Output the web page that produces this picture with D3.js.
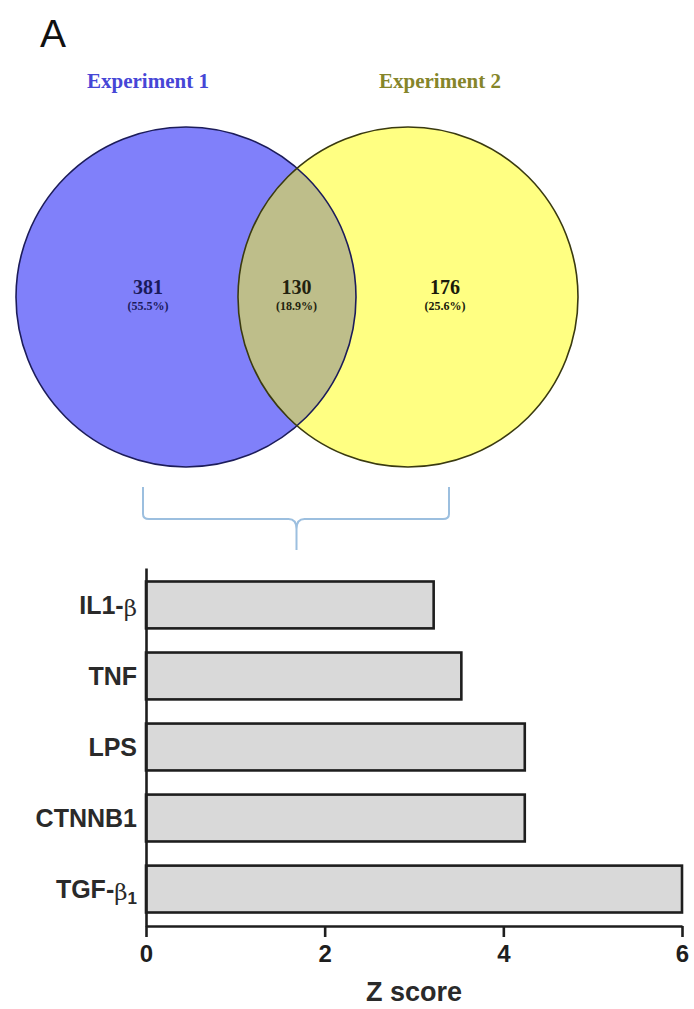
<!DOCTYPE html>
<html>
<head>
<meta charset="utf-8">
<script src="https://cdn.jsdelivr.net/npm/d3@7"></script>
<style>
  html, body { margin: 0; padding: 0; background: #ffffff; }
  svg { display: block; }
</style>
</head>
<body>
<svg id="fig" width="694" height="1009"></svg>
<script>
// ---- Venn diagram data ----
const setNames = ["Experiment 1", "Experiment 2"];
const regionKeys = ["only1", "both", "only2"];
const regionCounts = [381, 130, 176];
const regionPercents = ["55.5%", "18.9%", "25.6%"];

// ---- Upstream regulators (bar chart) ----
const regulators = ["IL1-β", "TNF", "LPS", "CTNNB1", "TGF-β1"];
const zScores = [3.22, 3.53, 4.24, 4.24, 6.0];
const zTicks = [0, 2, 4, 6];

const svg = d3.select("#fig");

// Panel letter
svg.append("text")
  .attr("x", 40).attr("y", 47)
  .attr("font-family", "Liberation Sans, Arial, sans-serif")
  .attr("font-size", 39)
  .attr("fill", "#111")
  .text("A");

// ---------- Venn ----------
const vennColors = ["#8080fa", "#ffff82"];
const vennStroke = ["#1c1c5a", "#3a3a10"];
const titleColors = ["#4646d6", "#85852a"];
const overlapColor = "#bebe8a";
const radius = 170;
const cy = 297;
const centerX = d3.scalePoint().domain(setNames).range([186, 408]);
const titleX = d3.scalePoint().domain(setNames).range([148, 440]);
const regionX = d3.scalePoint().domain(regionKeys).range([148, 445]);

const venn = svg.append("g");
const defs = svg.append("defs");
defs.append("clipPath").attr("id", "clip-set1")
  .append("circle")
  .attr("cx", centerX(setNames[0])).attr("cy", cy).attr("r", radius);

venn.selectAll("circle.set")
  .data(setNames)
  .join("circle")
  .attr("class", "set")
  .attr("cx", d => centerX(d)).attr("cy", cy).attr("r", radius)
  .attr("fill", (d, i) => vennColors[i]);

// overlap region
venn.append("circle")
  .attr("cx", centerX(setNames[1])).attr("cy", cy).attr("r", radius)
  .attr("clip-path", "url(#clip-set1)")
  .attr("fill", overlapColor);

venn.selectAll("circle.outline")
  .data(setNames)
  .join("circle")
  .attr("class", "outline")
  .attr("cx", d => centerX(d)).attr("cy", cy).attr("r", radius)
  .attr("fill", "none")
  .attr("stroke", (d, i) => vennStroke[i])
  .attr("stroke-width", 1.6);

venn.selectAll("text.title")
  .data(setNames)
  .join("text")
  .attr("class", "title")
  .attr("x", d => titleX(d)).attr("y", 88)
  .attr("text-anchor", "middle")
  .attr("font-family", "Liberation Serif, Times New Roman, serif")
  .attr("font-weight", "bold")
  .attr("font-size", 21)
  .attr("fill", (d, i) => titleColors[i])
  .text(d => d);

const countColors = ["#1a1a5c", "#22220e", "#1a1a0a"];
venn.selectAll("text.count")
  .data(regionKeys)
  .join("text")
  .attr("class", "count")
  .attr("x", d => regionX(d)).attr("y", 294)
  .attr("text-anchor", "middle")
  .attr("font-family", "Liberation Serif, Times New Roman, serif")
  .attr("font-weight", "bold")
  .attr("font-size", 20)
  .attr("fill", (d, i) => countColors[i])
  .text((d, i) => regionCounts[i]);

venn.selectAll("text.pct")
  .data(regionKeys)
  .join("text")
  .attr("class", "pct")
  .attr("x", d => regionX(d)).attr("y", 310)
  .attr("text-anchor", "middle")
  .attr("font-family", "Liberation Serif, Times New Roman, serif")
  .attr("font-weight", "bold")
  .attr("font-size", 12)
  .attr("fill", (d, i) => countColors[i])
  .text((d, i) => "(" + regionPercents[i] + ")");

// Curly brace linking the overlap to the bar chart
const braceL = 143, braceR = 449, braceTop = 487, braceMid = 519, braceTip = 550;
const bx = regionX("both");
const brace = d3.path();
brace.moveTo(braceL, braceTop);
brace.lineTo(braceL, braceMid - 5);
brace.quadraticCurveTo(braceL, braceMid, braceL + 6, braceMid);
brace.lineTo(bx - 8, braceMid);
brace.quadraticCurveTo(bx, braceMid, bx, braceMid + 10);
brace.lineTo(bx, braceTip);
brace.moveTo(braceR, braceTop);
brace.lineTo(braceR, braceMid - 5);
brace.quadraticCurveTo(braceR, braceMid, braceR - 6, braceMid);
brace.lineTo(bx + 8, braceMid);
brace.quadraticCurveTo(bx, braceMid, bx, braceMid + 10);
svg.append("path")
  .attr("d", brace.toString())
  .attr("fill", "none")
  .attr("stroke", "#9cbfdf")
  .attr("stroke-width", 2);

// ---------- Bar chart ----------
const x = d3.scaleLinear().domain([0, 6]).range([146, 682]);
const y = d3.scaleBand().domain(regulators).range([568, 926])
  .paddingInner(0.34).paddingOuter(0.19);

const ink = "#1e1e1e";
const chart = svg.append("g");

chart.selectAll("rect.bar")
  .data(regulators)
  .join("rect")
  .attr("class", "bar")
  .attr("x", x(0))
  .attr("y", d => y(d))
  .attr("width", (d, i) => x(zScores[i]) - x(0))
  .attr("height", y.bandwidth())
  .attr("fill", "#d9d9d9")
  .attr("stroke", ink)
  .attr("stroke-width", 2.6);

// y axis (line only, labels drawn below)
const yAxis = chart.append("g")
  .attr("transform", `translate(${x(0)},0)`)
  .call(d3.axisLeft(y).tickSize(0).tickSizeOuter(0).tickFormat(""));
yAxis.select(".domain").attr("stroke", ink).attr("stroke-width", 2.6);

// x axis
const xAxis = chart.append("g")
  .attr("transform", `translate(0,${y.range()[1]})`)
  .call(d3.axisBottom(x).tickValues(zTicks).tickFormat(d3.format("d"))
    .tickSize(11).tickSizeOuter(0).tickPadding(8));
xAxis.select(".domain").attr("stroke", ink).attr("stroke-width", 2.6);
xAxis.selectAll(".tick line").attr("stroke", ink).attr("stroke-width", 2.6);
xAxis.selectAll(".tick text")
  .attr("font-family", "Liberation Sans, Arial, sans-serif")
  .attr("font-weight", "bold")
  .attr("font-size", 24)
  .attr("fill", ink);

// category labels with Greek letters and subscript
const labelFont = "Liberation Sans, Arial, sans-serif";
chart.selectAll("text.cat")
  .data(regulators)
  .join("text")
  .attr("class", "cat")
  .attr("x", 137)
  .attr("y", d => y(d) + y.bandwidth() / 2 + 9)
  .attr("text-anchor", "end")
  .attr("font-family", labelFont)
  .attr("font-weight", "bold")
  .attr("font-size", 25)
  .attr("fill", "#2a2a2a")
  .each(function(d) {
    const t = d3.select(this);
    const m = d.match(/^(.*?)(β)(\d?)$/);
    if (!m) { t.text(d); return; }
    t.append("tspan").text(m[1]);
    t.append("tspan").attr("font-weight", "normal").attr("font-family", "DejaVu Serif, serif")
      .attr("font-size", 23).attr("dy", 2).text(m[2]);
    if (m[3]) {
      t.append("tspan").attr("font-size", 17).attr("dy", 4).text(m[3]);
    }
  });

// axis title
chart.append("text")
  .attr("x", (x.range()[0] + x.range()[1]) / 2)
  .attr("y", 1001)
  .attr("text-anchor", "middle")
  .attr("font-family", labelFont)
  .attr("font-weight", "bold")
  .attr("font-size", 27)
  .attr("fill", "#2a2a2a")
  .text("Z score");
</script>
</body>
</html>
